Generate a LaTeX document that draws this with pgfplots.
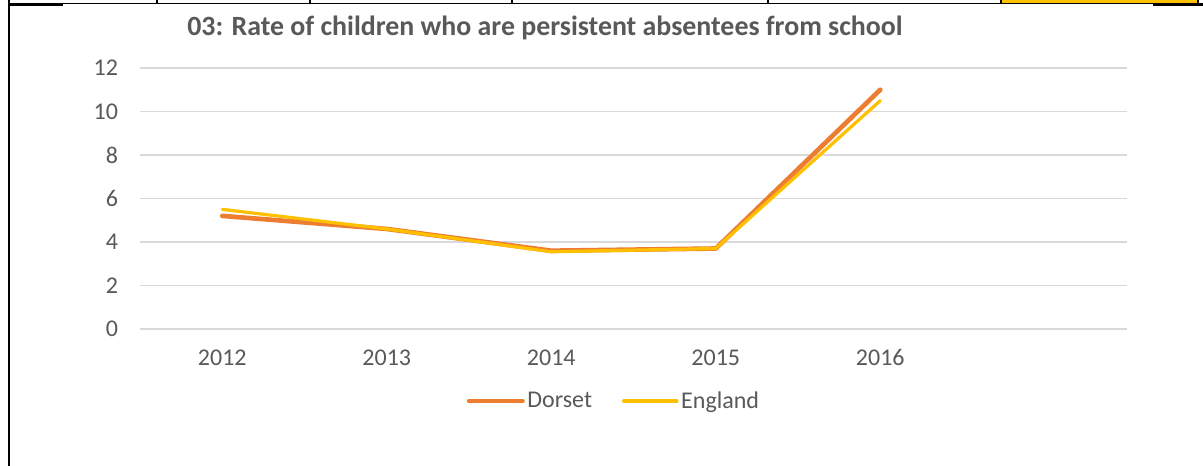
\documentclass[border=0pt]{standalone}
\usepackage{pgfplots}
\pgfplotsset{compat=1.18}
\usepackage{fontspec}
\setmainfont{Carlito}
\definecolor{dorset}{HTML}{ED7D31}
\definecolor{england}{HTML}{FFC000}
\definecolor{txt}{HTML}{595959}
\definecolor{gridc}{HTML}{D9D9D9}
\begin{document}
\begin{tikzpicture}
\useasboundingbox[fill=white] (0,0) rectangle ({1203*0.75pt},{-466*0.75pt});
% surrounding document table lines
\draw[line width=1.5pt] ({8.5*0.75pt},0) -- ({8.5*0.75pt},{-466*0.75pt});
\fill[england] ({1002*0.75pt},0) rectangle ({1197*0.75pt},{-4*0.75pt});
\draw[line width=0.9pt] ({8*0.75pt},{-3.5*0.75pt}) -- ({1203*0.75pt},{-3.5*0.75pt});
\draw[line width=1.5pt] ({8*0.75pt},{-5*0.75pt}) -- ({63*0.75pt},{-5*0.75pt});
\draw[line width=1.5pt] ({1153*0.75pt},{-5*0.75pt}) -- ({1203*0.75pt},{-5*0.75pt});
\foreach \xx in {157,310,512,768,1001,1198}{
  \draw[line width=0.9pt] ({\xx*0.75pt},0) -- ({\xx*0.75pt},{-4*0.75pt});
}
\node[text=txt, font=\fontsize{20.9}{24}\selectfont\bfseries] at ({545*0.75pt},{-28*0.75pt}) {03: Rate of children who are persistent absentees from school};
\begin{axis}[
  at={({140*0.75pt},{-329*0.75pt})}, anchor=south west,
  scale only axis, width={987*0.75pt}, height={261*0.75pt},
  xmin=-0.5, xmax=5.5, ymin=0, ymax=12,
  ytick={0,2,...,12}, xtick={0,1,2,3,4},
  xticklabels={2012,2013,2014,2015,2016},
  axis line style={draw=none}, major tick length=0pt,
  ymajorgrids, grid style={gridc, line width=1.1pt},
  tick label style={text=txt, font=\fontsize{18}{20}\selectfont},
  /pgf/number format/assume math mode=true,
  yticklabel style={anchor=east, xshift=-13pt},
  xticklabel style={anchor=center, text height=9pt, text depth=0pt, yshift=-23pt},
  clip=false,
  legend columns=2,
  legend style={at={(0.4805,-0.276)}, anchor=center, draw=none, fill=none,
    font=\fontsize{18}{20}\selectfont, text=txt,
    /tikz/every even column/.append style={column sep=20.5pt},
    inner sep=0pt},
  legend image code/.code={\draw[#1] (0pt,0pt) -- (40pt,0pt);},
]
\addplot[dorset, line width=3.5pt, line cap=round, line join=round] coordinates {(0,5.2)(1,4.6)(2,3.6)(3,3.7)(4,11.0)};
\addlegendentry{Dorset}
\addplot[england, line width=2.4pt, line cap=round, line join=round] coordinates {(0,5.5)(1,4.6)(2,3.55)(3,3.7)(4,10.5)};
\addlegendentry{England}
\end{axis}
\end{tikzpicture}
\end{document}
